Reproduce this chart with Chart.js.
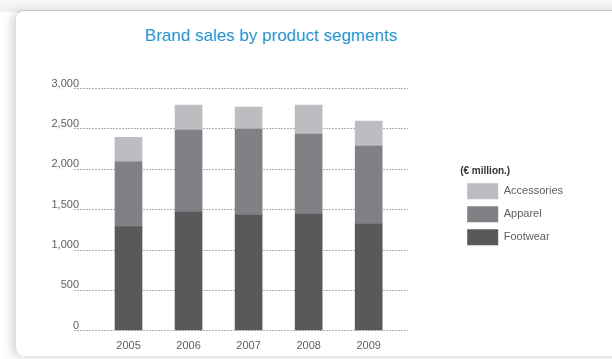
<!DOCTYPE html>
<html>
<head>
<meta charset="utf-8">
<script src="https://cdn.jsdelivr.net/npm/chart.js@4.4.1/dist/chart.umd.min.js"></script>
<style>
  html, body { margin: 0; padding: 0; }
  body {
    width: 612px; height: 359px; position: relative; overflow: hidden;
    background: #fff; font-family: "Liberation Sans", Arial, sans-serif;
  }
  .topband {
    position: absolute; left: 0; top: 0; width: 612px; height: 12px;
    background: linear-gradient(#f8f8f8, #eeeeee);
  }
  .card {
    position: absolute; left: 15px; top: 10px; width: 660px; height: 345px;
    background: #fff; border-top: 1px solid #c6c6c6; border-left: 1px solid #dedede;
    border-radius: 9px; box-shadow: -5px 2px 8px rgba(0, 0, 0, 0.13);
  }
  .title {
    position: absolute; left: 0; top: 26px; width: 542px; text-align: center;
    color: #2596d3; font-size: 17px; line-height: 20px;
  }
  #wrap { position: absolute; left: 0; top: 0; width: 612px; height: 359px; }
</style>
</head>
<body>
<div class="topband"></div>
<div class="card"></div>
<div class="title">Brand sales by product segments</div>
<div id="wrap"><canvas id="salesChart"></canvas></div>
<script>
// brand sales, € million
const years = ['2005', '2006', '2007', '2008', '2009'];
const footwear = [1280, 1465, 1427, 1440, 1316];
const apparel = [807, 1015, 1065, 990, 966];
const accessories = [302, 309, 273, 359, 309];
const yMin = 0;
const yMax = 3000;
const yStep = 500;

const labelColor = '#5f6062';

// dotted guide lines, running a little wider than the bar area
const dashedGrid = {
  id: 'dashedGrid',
  beforeDatasetsDraw(chart, args, opts) {
    const { ctx, chartArea, scales: { y } } = chart;
    ctx.save();
    ctx.strokeStyle = opts.color;
    ctx.lineWidth = 1;
    ctx.setLineDash([2, 1]);
    y.ticks.forEach(t => {
      const py = Math.round(y.getPixelForValue(t.value)) + 0.5;
      ctx.beginPath();
      ctx.moveTo(chartArea.left - opts.extendLeft, py);
      ctx.lineTo(chartArea.right + opts.extendRight, py);
      ctx.stroke();
    });
    ctx.restore();
  }
};

const ctx = document.getElementById('salesChart').getContext('2d');

new Chart(ctx, {
  type: 'bar',
  data: {
    labels: years,
    datasets: [
      { label: 'Footwear', data: footwear, backgroundColor: '#58595b' },
      { label: 'Apparel', data: apparel, backgroundColor: '#808184' },
      { label: 'Accessories', data: accessories, backgroundColor: '#bcbdc0' }
    ]
  },
  options: {
    responsive: true,
    maintainAspectRatio: false,
    animation: false,
    layout: {
      padding: { left: 0, top: 88, right: 39, bottom: 7.7 }
    },
    datasets: {
      bar: { barThickness: 27, borderWidth: 0 }
    },
    scales: {
      x: {
        stacked: true,
        grid: { display: false, drawTicks: false },
        border: { display: false },
        ticks: { color: labelColor, font: { family: 'Liberation Sans', size: 11 }, padding: 9.5 },
        afterFit: scale => { scale.height = 21; }
      },
      y: {
        stacked: true,
        min: yMin,
        max: yMax,
        grid: { display: false, drawTicks: false },
        border: { display: false },
        ticks: {
          stepSize: yStep,
          padding: 19.5,
          labelOffset: -4.5,
          color: labelColor,
          font: { family: 'Liberation Sans', size: 11 },
          callback: v => v.toLocaleString('en-US')
        },
        afterFit: scale => { scale.width = 98.5; }
      },
      // hidden axis that keeps the legend clear of the bars
      gap: {
        type: 'linear',
        position: 'right',
        display: false,
        afterFit: scale => { scale.width = 61.5; }
      }
    },
    plugins: {
      legend: {
        position: 'right',
        fullSize: false,
        reverse: true,
        align: 'center',
        title: {
          display: true,
          position: 'start',
          text: '(€ million.)',
          color: '#333',
          font: { family: 'Liberation Sans', size: 10, weight: 'bold', lineHeight: 1 },
          padding: 0
        },
        labels: {
          boxWidth: 31,
          boxHeight: 16,
          padding: 7,
          color: labelColor,
          font: { family: 'Liberation Sans', size: 11 }
        }
      },
      tooltip: { enabled: false },
      dashedGrid: { color: '#b0b0b0', extendLeft: 24.5, extendRight: 9.5 }
    }
  },
  plugins: [dashedGrid]
});
</script>
</body>
</html>
